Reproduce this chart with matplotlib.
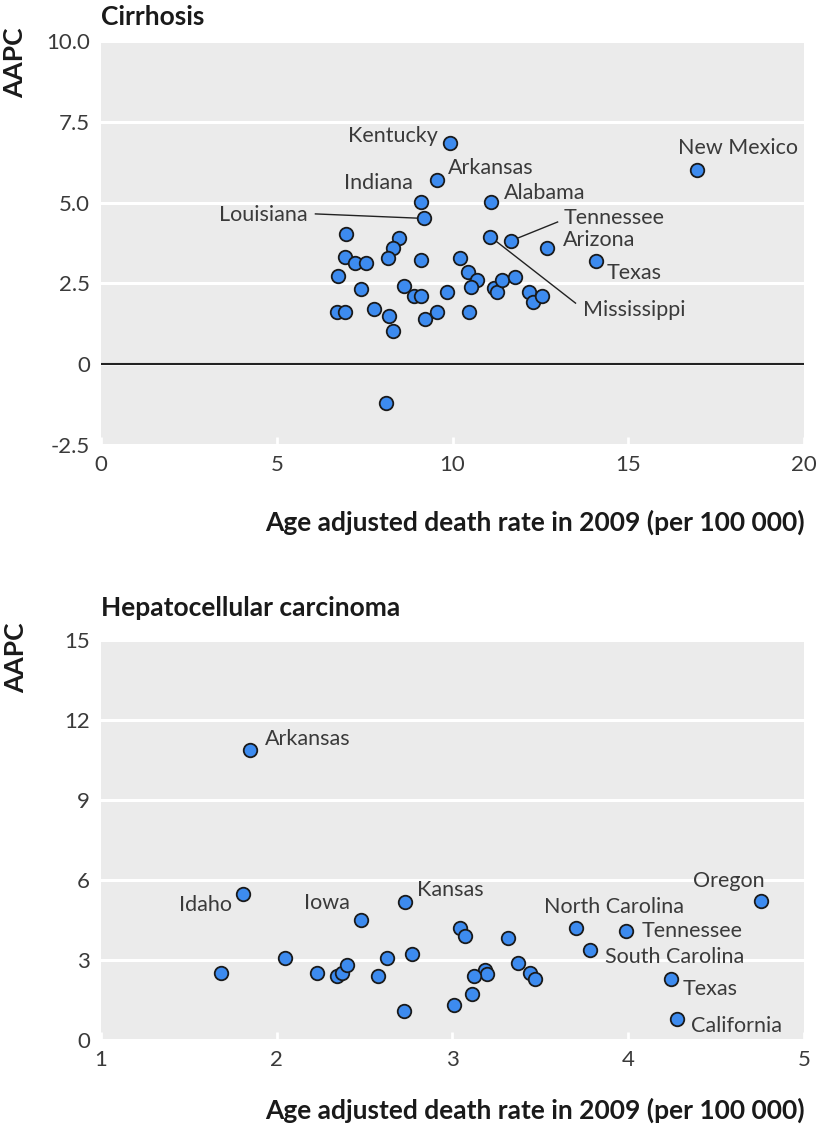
import matplotlib
matplotlib.use("Agg")
import matplotlib.pyplot as plt

plt.rcParams['font.family'] = ['Lato', 'DejaVu Sans']

# ---------------- data ----------------
# Cirrhosis: labelled states
cir_states = ["Kentucky", "Arkansas", "New Mexico", "Indiana", "Alabama",
              "Louisiana", "Tennessee", "Mississippi", "Arizona", "Texas"]
cir_state_rate = [9.92, 9.56, 16.97, 9.09, 11.10, 9.20, 11.67, 11.08, 12.70, 14.07]
cir_state_aapc = [6.84, 5.70, 6.01, 5.02, 5.02, 4.51, 3.82, 3.94, 3.61, 3.20]
# Cirrhosis: other states
cir_rate = [6.97, 8.47, 8.31, 8.17, 6.95, 7.24, 7.55, 6.74, 9.11, 10.21,
            10.44, 10.70, 10.53, 7.40, 8.61, 8.90, 9.09, 9.83, 11.18, 11.27,
            11.41, 11.78, 12.19, 12.29, 12.55, 6.71, 6.93, 7.78, 8.19, 8.31,
            9.21, 9.56, 10.48, 8.11]
cir_aapc = [4.02, 3.91, 3.60, 3.29, 3.32, 3.12, 3.12, 2.73, 3.22, 3.30,
            2.84, 2.62, 2.39, 2.32, 2.42, 2.11, 2.11, 2.22, 2.35, 2.22,
            2.62, 2.71, 2.22, 1.91, 2.11, 1.60, 1.60, 1.72, 1.50, 1.02,
            1.41, 1.60, 1.60, -1.19]

# Hepatocellular carcinoma: labelled states
hcc_states = ["Arkansas", "Idaho", "Iowa", "Kansas", "North Carolina",
              "Tennessee", "South Carolina", "Texas", "California", "Oregon"]
hcc_state_rate = [1.846, 1.808, 2.478, 2.730, 3.704, 3.985, 3.784, 4.242, 4.280, 4.754]
hcc_state_aapc = [10.87, 5.47, 4.50, 5.19, 4.19, 4.09, 3.37, 2.28, 0.78, 5.21]
# Hepatocellular carcinoma: other states
hcc_rate = [1.683, 2.046, 2.230, 2.345, 2.373, 2.400, 2.578, 2.630, 2.724, 2.772,
            3.044, 3.072, 3.318, 3.187, 3.196, 3.120, 3.371, 3.443, 3.472, 3.110,
            3.010]
hcc_aapc = [2.50, 3.09, 2.50, 2.40, 2.50, 2.81, 2.40, 3.09, 1.09, 3.21,
            4.21, 3.90, 3.81, 2.62, 2.47, 2.40, 2.87, 2.50, 2.28, 1.71,
            1.31]

cir_xticks = [0, 5, 10, 15, 20]
cir_yticks = [-2.5, 0, 2.5, 5.0, 7.5, 10.0]
cir_yticklabels = ["-2.5", "0", "2.5", "5.0", "7.5", "10.0"]
hcc_xticks = [1, 2, 3, 4, 5]
hcc_yticks = [0, 3, 6, 9, 12, 15]

xlabel_text = "Age adjusted death rate in 2009 (per 100 000)"

# ---------------- styling ----------------
W, H = 820, 1140
fig = plt.figure(figsize=(W / 100, H / 100), dpi=100)
BG = "#ebebeb"
PT = "#3d8bef"
TXT = "#3a3a3a"
FS_TICK = 16
FS_LAB = 15.5
FS_BOLD = 19


def fx(px):
    return px / W


def fy(py):
    return 1 - py / H


ax1 = fig.add_axes([fx(101), fy(445), fx(804) - fx(101), fy(41) - fy(445)])
ax2 = fig.add_axes([fx(101), fy(1040), fx(804) - fx(101), fy(640) - fy(1040)])


def style(ax, xlim, ylim, xticks, yticks, yticklabels=None):
    ax.set_facecolor(BG)
    for s in ax.spines.values():
        s.set_visible(False)
    ax.set_xlim(*xlim)
    ax.set_ylim(*ylim)
    ax.set_xticks(xticks)
    ax.set_yticks(yticks)
    if yticklabels is not None:
        ax.set_yticklabels(yticklabels)
    ax.yaxis.grid(True, color="white", linewidth=2.2)
    ax.set_axisbelow(True)
    ax.tick_params(axis="x", direction="in", length=6, width=2, color="white",
                   labelsize=FS_TICK, labelcolor=TXT, pad=7)
    ax.tick_params(axis="y", length=0, labelsize=FS_TICK, labelcolor=TXT, pad=8)


style(ax1, (0, 20), (-2.5, 10), cir_xticks, cir_yticks, cir_yticklabels)
style(ax2, (1, 5), (0, 15), hcc_xticks, hcc_yticks)

ax1.axhline(0, color="#222222", linewidth=1.5, zorder=1.5)

mk = dict(s=95, c=PT, edgecolors="#1a1a1a", linewidths=1.3, zorder=3)
ax1.scatter(cir_rate, cir_aapc, **mk)
ax1.scatter(cir_state_rate, cir_state_aapc, **mk)
ax2.scatter(hcc_rate, hcc_aapc, **mk)
ax2.scatter(hcc_state_rate, hcc_state_aapc, **mk)

# label placement (x, y, ha, leader-end or None)
cir_lab_pos = {
    "Kentucky": (9.57, 7.05, "right", None),
    "Arkansas": (9.86, 6.07, "left", None),
    "New Mexico": (16.41, 6.69, "left", None),
    "Indiana": (8.86, 5.61, "right", None),
    "Alabama": (11.45, 5.30, "left", None),
    "Louisiana": (5.87, 4.62, "right", (6.10, 4.65)),
    "Tennessee": (13.16, 4.52, "left", (12.99, 4.40)),
    "Mississippi": (13.70, 1.67, "left", (13.50, 1.89)),
    "Arizona": (13.13, 3.84, "left", None),
    "Texas": (14.39, 2.82, "left", None),
}
hcc_lab_pos = {
    "Arkansas": (1.93, 11.29, "left"),
    "Idaho": (1.746, 5.06, "right"),
    "Iowa": (2.417, 5.12, "right"),
    "Kansas": (2.797, 5.62, "left"),
    "North Carolina": (3.52, 5.0, "left"),
    "Tennessee": (4.075, 4.09, "left"),
    "South Carolina": (3.87, 3.12, "left"),
    "Texas": (4.31, 1.90, "left"),
    "California": (4.356, 0.52, "left"),
    "Oregon": (4.775, 5.97, "right"),
}

for name, px, py in zip(cir_states, cir_state_rate, cir_state_aapc):
    tx, ty, ha, lead = cir_lab_pos[name]
    ax1.text(tx, ty, name, ha=ha, va="center", fontsize=FS_LAB, color=TXT, zorder=4)
    if lead is not None:
        ax1.plot([lead[0], px], [lead[1], py], color="#222222", linewidth=1.0, zorder=2.5)

for name, px, py in zip(hcc_states, hcc_state_rate, hcc_state_aapc):
    tx, ty, ha = hcc_lab_pos[name]
    ax2.text(tx, ty, name, ha=ha, va="center", fontsize=FS_LAB, color=TXT, zorder=4)

# titles and axis labels
DARK = "#1a1a1a"
fig.text(fx(101), fy(25), "Cirrhosis", ha="left", va="baseline",
         fontsize=FS_BOLD, fontweight="bold", color=DARK)
fig.text(fx(101), fy(616), "Hepatocellular carcinoma", ha="left", va="baseline",
         fontsize=FS_BOLD, fontweight="bold", color=DARK)
fig.text(fx(15), fy(63), "AAPC", rotation=90, ha="center", va="center",
         fontsize=FS_BOLD, fontweight="bold", color=DARK)
fig.text(fx(16), fy(658), "AAPC", rotation=90, ha="center", va="center",
         fontsize=FS_BOLD, fontweight="bold", color=DARK)
fig.text(fx(805), fy(522), xlabel_text, ha="right", va="center",
         fontsize=FS_BOLD, fontweight="bold", color=DARK)
fig.text(fx(805), fy(1110), xlabel_text, ha="right", va="center",
         fontsize=FS_BOLD, fontweight="bold", color=DARK)

fig.savefig("out.png", dpi=100, facecolor="white")
